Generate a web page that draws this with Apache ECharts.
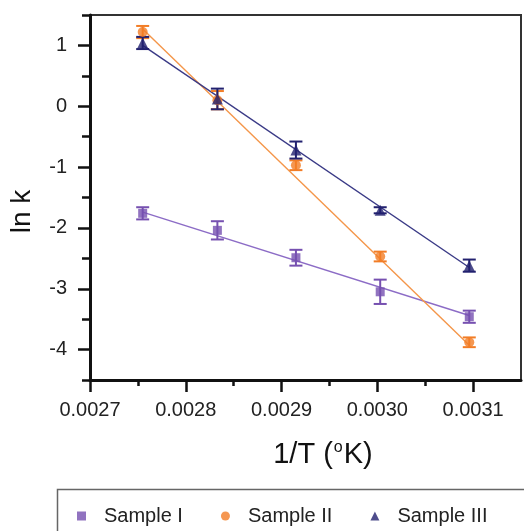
<!DOCTYPE html>
<html>
<head>
<meta charset="utf-8">
<script src="https://cdn.jsdelivr.net/npm/echarts@6/dist/echarts.min.js"></script>
<style>html,body{margin:0;padding:0;background:#fff}#c{width:524px;height:531px}</style>
</head>
<body>
<div id="c"></div>
<script>
// 1/T values (x)
var invT = [0.002755, 0.002833, 0.002915, 0.003003, 0.003096];
// ln k values
var sample1 = [-1.76, -2.04, -2.49, -3.05, -3.46];
var sample1Err = [0.10, 0.15, 0.13, 0.20, 0.10];
var sample2 = [1.22, 0.10, -0.97, -2.47, -3.88];
var sample2Err = [0.10, 0.15, 0.08, 0.08, 0.08];
var sample3 = [1.04, 0.12, -0.72, -1.71, -2.62];
var sample3Err = [0.10, 0.17, 0.14, 0.05, 0.10];
// fitted line endpoints (at first and last 1/T)
var fitX = [0.002755, 0.003096];
var fit1 = [-1.74, -3.44];
var fit2 = [1.27, -3.93];
var fit3 = [1.00, -2.65];
// tick labels
var xMajor = [0.0027, 0.0028, 0.0029, 0.0030, 0.0031];
var yMajor = [-4, -3, -2, -1, 0, 1];
var names = ['Sample I', 'Sample II', 'Sample III'];

var cPurple = '#7650b0', cOrange = '#f27d26', cNavy = '#22216f';
var lPurple = '#8c6cc6', lOrange = '#f4964a', lNavy = '#3a3a86';

function pts(xs, ys) { return xs.map(function (x, i) { return [x, ys[i]]; }); }
function errData(xs, ys, es) { return xs.map(function (x, i) { return [x, ys[i] - es[i], ys[i] + es[i]]; }); }
function errSeries(name, xs, ys, es, color) {
  return {
    type: 'custom', name: name + ' err', z: 3,
    data: errData(xs, ys, es),
    renderItem: function (params, api) {
      var lo = api.coord([api.value(0), api.value(1)]);
      var hi = api.coord([api.value(0), api.value(2)]);
      var w = 6.5;
      var st = { stroke: color, lineWidth: 2, fill: null };
      return { type: 'group', children: [
        { type: 'line', shape: { x1: lo[0], y1: lo[1], x2: hi[0], y2: hi[1] }, style: st },
        { type: 'line', shape: { x1: lo[0] - w, y1: lo[1], x2: lo[0] + w, y2: lo[1] }, style: st },
        { type: 'line', shape: { x1: hi[0] - w, y1: hi[1], x2: hi[0] + w, y2: hi[1] }, style: st }
      ]};
    }
  };
}
function fitSeries(ys, color) {
  return { type: 'line', name: 'fit', data: pts(fitX, ys), showSymbol: false, symbol: 'none',
    lineStyle: { color: color, width: 1.4 }, z: 2, silent: true };
}
function isMajorX(v) { return Math.abs(v * 10000 - Math.round(v * 10000)) < 1e-6; }

var font = 'Liberation Sans, Arial, sans-serif';
var chart = echarts.init(document.getElementById('c'), null, { renderer: 'canvas' });
chart.setOption({
  animation: false,
  backgroundColor: '#fff',
  textStyle: { fontFamily: font },
  grid: { left: 90, top: 15, right: 3, bottom: 151, outerBoundsMode: 'none', containLabel: false,
    show: true, borderColor: '#333', borderWidth: 2, backgroundColor: 'transparent' },
  xAxis: [{
    type: 'value', min: 0.0027, max: 0.00315, interval: 0.00005,
    axisLine: { show: true, onZero: false, lineStyle: { color: '#111', width: 3 } },
    axisTick: { show: true, length: 6, inside: false, lineStyle: { color: '#111', width: 2.5 } },
    axisLabel: { margin: 20, color: '#222', fontSize: 20, fontFamily: font,
      showMaxLabel: false,
      formatter: function (v) { return isMajorX(v) ? v.toFixed(4) : ''; } },
    splitLine: { show: false },
    name: '1/T ({sup|o}K)', nameLocation: 'middle', nameGap: 60,
    nameTextStyle: { fontSize: 29, color: '#111', fontFamily: font, padding: [0, 0, 0, 35],
      rich: { sup: { fontSize: 16, verticalAlign: 'top', padding: [0, 1, 14, 1], color: '#111' } } }
  }, {
    type: 'value', min: 0.0027, max: 0.00315, position: 'bottom', offset: 0,
    axisLine: { show: false, onZero: false },
    axisTick: { show: true, length: 12, customValues: xMajor, lineStyle: { color: '#111', width: 2.5 } },
    axisLabel: { show: false }, splitLine: { show: false }
  }],
  yAxis: [{
    type: 'value', min: -4.5, max: 1.5, interval: 0.5,
    axisLine: { show: true, onZero: false, lineStyle: { color: '#111', width: 3 } },
    axisTick: { show: true, length: 8, lineStyle: { color: '#111', width: 2.5 } },
    axisLabel: { margin: 23, color: '#222', fontSize: 20, fontFamily: font,
      formatter: function (v) { return Math.abs(v - Math.round(v)) < 1e-9 ? String(Math.round(v)) : ''; } },
    splitLine: { show: false },
    name: 'ln k', nameLocation: 'middle', nameGap: 54, nameRotate: 90,
    nameTextStyle: { fontSize: 28, color: '#111', fontFamily: font, padding: [0, 28, 0, 0] }
  }, {
    type: 'value', min: -4.5, max: 1.5, position: 'left', offset: 0,
    axisLine: { show: false, onZero: false },
    axisTick: { show: true, length: 12, customValues: yMajor, lineStyle: { color: '#111', width: 2.5 } },
    axisLabel: { show: false }, splitLine: { show: false }
  }],
  legend: {
    data: [
      { name: names[0], icon: 'rect' },
      { name: names[1], icon: 'circle' },
      { name: names[2], icon: 'triangle' }
    ],
    left: 72, top: 501, itemWidth: 9, itemHeight: 9, itemGap: 38,
    textStyle: { fontSize: 20, color: '#222', fontFamily: font, padding: [0, 0, 0, 13] }
  },
  graphic: [{
    type: 'rect', left: 55, top: 487, shape: { width: 500, height: 80 },
    style: { fill: 'none', stroke: '#666', lineWidth: 1.5 }, z: -1
  }],
  series: [
    fitSeries(fit1, lPurple), fitSeries(fit2, lOrange), fitSeries(fit3, lNavy),
    errSeries(names[0], invT, sample1, sample1Err, cPurple),
    errSeries(names[1], invT, sample2, sample2Err, cOrange),
    errSeries(names[2], invT, sample3, sample3Err, cNavy),
    { type: 'scatter', name: names[0], data: pts(invT, sample1), symbol: 'rect', symbolSize: 9, itemStyle: { color: cPurple }, z: 4 },
    { type: 'scatter', name: names[1], data: pts(invT, sample2), symbol: 'circle', symbolSize: 10, itemStyle: { color: cOrange }, z: 4 },
    { type: 'scatter', name: names[2], data: pts(invT, sample3), symbol: 'triangle', symbolSize: 11, itemStyle: { color: cNavy }, z: 4 }
  ]
});
</script>
</body>
</html>
